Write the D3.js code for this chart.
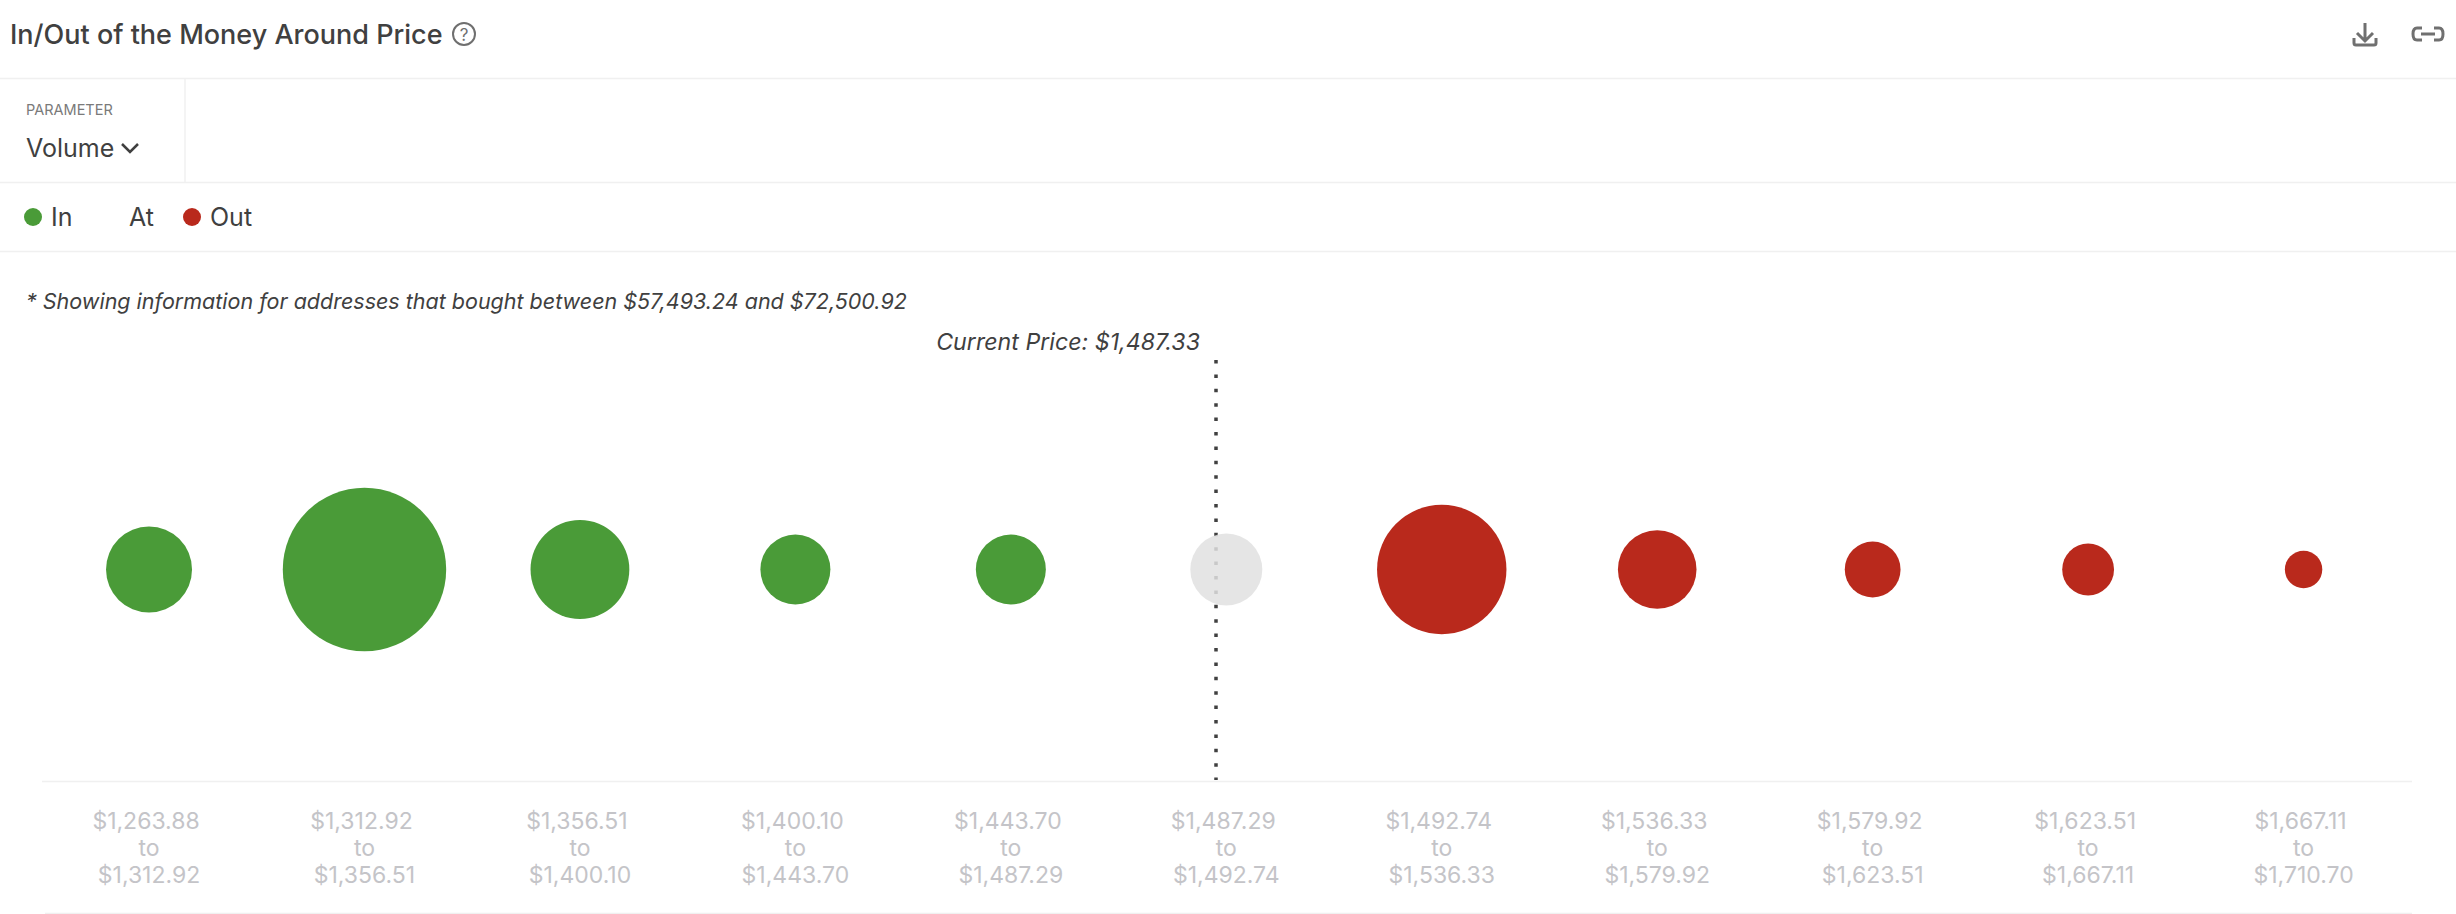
<!DOCTYPE html>
<html><head><meta charset="utf-8">
<script src="https://cdn.jsdelivr.net/npm/d3@7/dist/d3.min.js"></script>
<style>html,body{margin:0;padding:0;background:#fff}svg{display:block}text{font-family:Inter,"Noto Sans",sans-serif}</style>
</head><body><svg id="c" width="2456" height="914"></svg>
<script>
const rangeFrom=["$1,263.88","$1,312.92","$1,356.51","$1,400.10","$1,443.70","$1,487.29","$1,492.74","$1,536.33","$1,579.92","$1,623.51","$1,667.11"];
const rangeTo=["$1,312.92","$1,356.51","$1,400.10","$1,443.70","$1,487.29","$1,492.74","$1,536.33","$1,579.92","$1,623.51","$1,667.11","$1,710.70"];
const volumes=[1849,6675,2440,1225,1225,1296,4186,1544,778,671,350];
const status=["In","In","In","In","In","At","Out","Out","Out","Out","Out"];
const legendItems=["In","At","Out"];
const currentPrice=1487.33;
const svg=d3.select("#c");
const x=d3.scaleBand().domain(rangeFrom).range([41.3,2411.3]);
const r=d3.scaleSqrt().domain([0,6675]).range([0,81.7]);
const color=d3.scaleOrdinal().domain(["In","At","Out"]).range(["#4a9b38","#e0e0e0","#b9291c"]);
const ink="#404040";
function hr(y,a=0,b=2456,c="#f0f0f0"){svg.append("line").attr("x1",a).attr("x2",b).attr("y1",y+.5).attr("y2",y+.5).attr("stroke",c).attr("stroke-width",1.5)}
hr(78);hr(182);hr(251);
svg.append("line").attr("x1",185).attr("x2",185).attr("y1",78).attr("y2",182).attr("stroke","#f0f0f0").attr("stroke-width",1.5);
svg.append("text").attr("x",10).attr("y",44).attr("font-size",27).attr("font-weight",500).attr("fill",ink).text("In/Out of the Money Around Price");
const q=svg.append("g").attr("transform","translate(464,34)");
q.append("circle").attr("r",11).attr("fill","none").attr("stroke","#6f6f6f").attr("stroke-width",2);
q.append("text").attr("text-anchor","middle").attr("y",6.5).attr("font-size",17).attr("fill","#6f6f6f").text("?");
const dl=svg.append("g").attr("fill","none").attr("stroke","#707070").attr("stroke-width",3);
dl.append("path").attr("d","M2365 23V41M2357 33L2365 41L2373 33M2354 38V43Q2354 45 2356 45H2374Q2376 45 2376 43V38");
dl.append("path").attr("d","M2422 28H2417Q2413 28 2413 34Q2413 40 2417 40H2422M2434 28H2439Q2443 28 2443 34Q2443 40 2439 40H2434M2421 34H2435");
svg.append("text").attr("x",26).attr("y",115).attr("font-size",14.5).attr("fill","#7a7a7a").text("PARAMETER");
svg.append("text").attr("x",26).attr("y",157).attr("font-size",25).attr("fill",ink).text("Volume");
svg.append("path").attr("d","M122 144L130 152L138 144").attr("fill","none").attr("stroke",ink).attr("stroke-width",2.5);
const legendX={In:[33,51],At:[null,129],Out:[192,210]};
legendItems.forEach(k=>{const [cx,tx]=legendX[k];
 if(cx!==null)svg.append("circle").attr("cx",cx).attr("cy",217).attr("r",9).attr("fill",color(k));
 svg.append("text").attr("x",tx).attr("y",225.5).attr("font-size",25).attr("fill",ink).text(k);});
svg.append("text").attr("x",26).attr("y",309).attr("font-size",21.5).attr("font-style","italic").attr("fill",ink).text("* Showing information for addresses that bought between $57,493.24 and $72,500.92");
const lineX=1216;
svg.append("text").attr("x",1200).attr("y",350).attr("text-anchor","end").attr("font-size",23.2).attr("font-style","italic").attr("fill",ink).text("Current Price: $"+d3.format(",.2f")(currentPrice));
svg.append("line").attr("x1",lineX).attr("x2",lineX).attr("y1",360).attr("y2",780).attr("stroke","#404040").attr("stroke-width",3.5).attr("stroke-dasharray","3.5 10.9");
const cy=569.5;
svg.selectAll("circle.b").data(volumes).join("circle").attr("class","b").attr("cx",(d,i)=>x(rangeFrom[i])+x.bandwidth()/2).attr("cy",cy).attr("r",d=>r(d)).attr("fill",(d,i)=>color(status[i])).attr("fill-opacity",(d,i)=>status[i]==="At"?.85:1);
hr(781,42,2412);hr(913,45,2412);
const lab=svg.append("g").attr("text-anchor","middle").attr("font-size",23).attr("fill","#c4c4c8");
rangeFrom.forEach((f,i)=>{const c=x(f)+x.bandwidth()/2;
 lab.append("text").attr("x",c-3).attr("y",829).text(f);
 lab.append("text").attr("x",c).attr("y",856).text("to");
 lab.append("text").attr("x",c).attr("y",883).text(rangeTo[i]);});
</script></body></html>
